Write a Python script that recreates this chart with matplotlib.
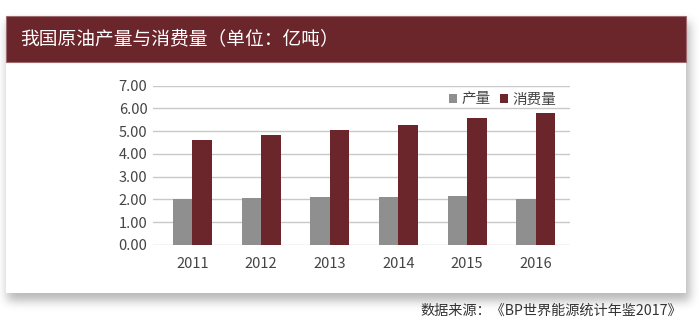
import numpy as np
import matplotlib.pyplot as plt
from matplotlib.patches import Rectangle

plt.rcParams['font.family'] = ['Noto Sans CJK SC', 'DejaVu Sans']

# values (亿吨)
years = ['2011', '2012', '2013', '2014', '2015', '2016']
production = [2.03, 2.07, 2.09, 2.11, 2.14, 2.00]
consumption = [4.63, 4.85, 5.07, 5.26, 5.59, 5.78]

title = '我国原油产量与消费量（单位：亿吨）'
source = '数据来源：《BP世界能源统计年鉴2017》'

W, H = 699, 329
fig = plt.figure(figsize=(W / 100, H / 100), dpi=100)
fig.patch.set_facecolor('white')


def px(x, y):
    # pixel coords (top-left origin) -> figure fraction
    return x / W, 1 - y / H


card_l, card_r, card_t, card_b = 6, 686, 16, 293

# soft drop shadow under the card
bg = fig.add_axes([0, 0, 1, 1], zorder=0)
bg.set_axis_off()
mask = np.zeros((H, W))
mask[card_t + 6:card_b + 8, card_l + 1:card_r + 4] = 1.0
k = np.exp(-0.5 * (np.arange(-15, 16) / 5.0) ** 2)
k /= k.sum()
mask = np.apply_along_axis(lambda r: np.convolve(r, k, mode='same'), 1, mask)
mask = np.apply_along_axis(lambda c: np.convolve(c, k, mode='same'), 0, mask)
rgba = np.zeros((H, W, 4))
rgba[..., 3] = mask * 0.28
bg.imshow(rgba, extent=(0, W, H, 0), interpolation='bilinear')
bg.set_xlim(0, W)
bg.set_ylim(H, 0)

# card body
x0, y0 = px(card_l, card_b)
x1, y1 = px(card_r, card_t)
fig.add_artist(Rectangle((x0, y0), x1 - x0, y1 - y0, transform=fig.transFigure,
                         facecolor='white', edgecolor='none', zorder=1))

# title bar
x0, y0 = px(card_l, 62)
x1, y1 = px(card_r, card_t)
fig.add_artist(Rectangle((x0, y0), x1 - x0, y1 - y0, transform=fig.transFigure,
                         facecolor='#6b262c', edgecolor='#9c6a6f', linewidth=0.8, zorder=2))
tx, ty = px(20, 40)
fig.text(tx, ty, title, color='white', fontsize=13.5, va='center', ha='left', zorder=3)

sx, sy = px(682, 311)
fig.text(sx, sy, source, color='#333333', fontsize=10.2, va='center', ha='right', zorder=3)

# plot area
ax_l, ax_r = 153, 570
ax_top, ax_bot = 85.7, 245
ax = fig.add_axes([ax_l / W, 1 - ax_bot / H, (ax_r - ax_l) / W, (ax_bot - ax_top) / H], zorder=4)
ax.patch.set_alpha(0)

x = np.arange(len(years))
w = 0.284
ax.bar(x - w / 2, production, w, color='#8f8f8f', label='产量', zorder=3)
ax.bar(x + w / 2, consumption, w, color='#6b262c', label='消费量', zorder=3)

ax.set_xlim(-0.573, 5.5)
ax.set_ylim(0, 7)
ax.set_yticks(np.arange(0, 8, 1))
ax.set_yticklabels([f'{v:.2f}' for v in range(8)])
ax.set_xticks(x)
ax.set_xticklabels(years)
ax.tick_params(axis='both', length=0, labelsize=10.5, labelcolor='#444444')
ax.tick_params(axis='y', pad=4)
ax.tick_params(axis='x', pad=9)
ax.yaxis.grid(True, color='#c8c8c8', linewidth=1)
ax.set_axisbelow(True)
for s in ax.spines.values():
    s.set_visible(False)

ax.legend(loc='upper right', bbox_to_anchor=(0.982, 0.995), ncol=2, frameon=False,
          fontsize=10.5, handlelength=0.6, handleheight=0.6, handletextpad=0.3,
          columnspacing=0.6, labelcolor='#444444', borderaxespad=0)

fig.savefig('out.png', dpi=100)
